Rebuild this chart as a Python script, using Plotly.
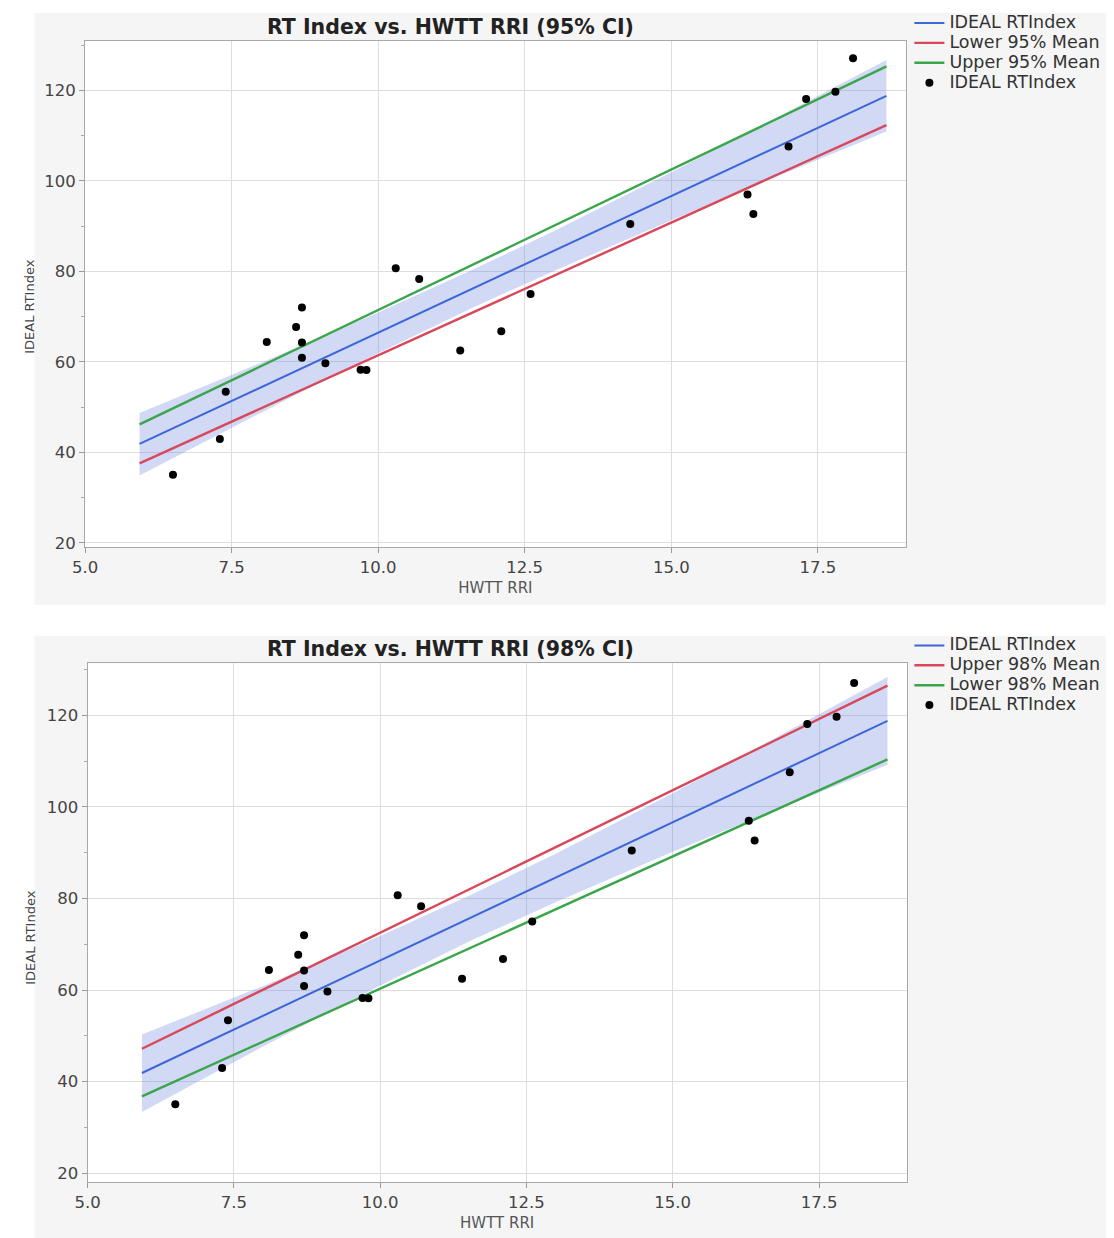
import plotly.graph_objects as go

# ---------------- data ----------------
hwtt_rri = [6.5, 7.3, 7.4, 8.1, 8.6, 8.7, 8.7, 8.7, 9.1, 9.7, 9.8, 10.3, 10.7,
            11.4, 12.1, 12.6, 14.3, 16.3, 16.4, 17.0, 17.3, 17.8, 18.1]
rt_index = [35.1, 43.0, 53.4, 64.4, 67.7, 72.0, 64.3, 60.9, 59.7, 58.3, 58.2, 80.7, 78.3,
            62.5, 66.8, 75.0, 90.5, 97.0, 92.7, 107.6, 118.1, 119.7, 127.1]

fit_x = [5.93, 8.0, 10.0, 11.6, 13.0, 15.0, 17.0, 18.67]
fit_y = [41.9, 54.4, 66.5, 76.1, 84.6, 96.7, 108.8, 118.8]
band95_upper = [48.7, 59.8, 70.9, 80.3, 88.9, 101.9, 115.4, 126.7]
band95_lower = [34.9, 48.8, 61.9, 71.9, 80.1, 91.3, 102.0, 110.9]
band98_upper = [50.3, 60.9, 71.8, 81.1, 89.8, 103.0, 116.8, 128.4]
band98_lower = [33.4, 47.7, 61.0, 71.1, 79.2, 90.2, 100.6, 109.2]

mean_x = [5.93, 18.67]
lower95_mean = [37.6, 112.3]
upper95_mean = [46.2, 125.3]
upper98_mean = [47.2, 126.5]
lower98_mean = [36.8, 110.4]

titles = ["RT Index vs. HWTT RRI (95% CI)", "RT Index vs. HWTT RRI (98% CI)"]
x_title = "HWTT RRI"
y_title = "IDEAL RTIndex"

# ---------------- styling ----------------
W, H = 1114, 1238
FONT = "DejaVu Sans"
BLUE = "#3d66d6"
RED = "#d8475a"
GREEN = "#3ba54b"
BAND = "rgba(90,120,220,0.28)"
GRID = "#dedede"
AXL = "#a8a8a8"
PANEL = "#f5f5f5"


# target screen pixel -> figure pixel (compensates page offset seen in render)
def fx(p):
    return (p - 20.5) / 0.988


def fy(p):
    return (p - 7.3) / 0.996


def px_x(p):
    return fx(p) / W


def px_y(p):
    return 1 - fy(p) / H


def legend_label(text):
    return "<span style='font-size:17.5px'>" + text + "</span>"


fig = go.Figure()


def add_chart(xa, ya, legend, upper, lower, names_colors_lines):
    fig.add_trace(go.Scatter(
        x=fit_x + fit_x[::-1], y=upper + lower[::-1], fill="toself",
        fillcolor=BAND, line=dict(width=0), mode="lines", hoverinfo="skip",
        showlegend=False, xaxis=xa, yaxis=ya))
    fig.add_trace(go.Scatter(
        x=fit_x, y=fit_y, mode="lines", name=legend_label(y_title),
        line=dict(color=BLUE, width=2), xaxis=xa, yaxis=ya, legend=legend))
    for name, color, vals in names_colors_lines:
        fig.add_trace(go.Scatter(
            x=mean_x, y=vals, mode="lines", name=legend_label(name),
            line=dict(color=color, width=2.4), xaxis=xa, yaxis=ya, legend=legend))
    fig.add_trace(go.Scatter(
        x=hwtt_rri, y=rt_index, mode="markers", name=legend_label(y_title),
        marker=dict(color="black", size=8), xaxis=xa, yaxis=ya, legend=legend))


add_chart("x", "y", "legend", band95_upper, band95_lower,
          [("Lower 95% Mean", RED, lower95_mean), ("Upper 95% Mean", GREEN, upper95_mean)])
add_chart("x2", "y2", "legend2", band98_upper, band98_lower,
          [("Upper 98% Mean", RED, upper98_mean), ("Lower 98% Mean", GREEN, lower98_mean)])

xaxis_common = dict(
    range=[5, 19], tick0=5, dtick=2.5, tickformat=".1f",
    showgrid=True, gridcolor=GRID, gridwidth=1, zeroline=False,
    showline=True, linecolor=AXL, linewidth=1, mirror=True,
    ticks="outside", ticklen=5, tickcolor="#999",
    tickfont=dict(family=FONT, size=16.5, color="#444"),
    title=dict(text=x_title, font=dict(family=FONT, size=15, color="#555"), standoff=6),
)
yaxis_common = dict(
    tick0=0, dtick=20,
    showgrid=True, gridcolor=GRID, gridwidth=1, zeroline=False,
    showline=True, linecolor=AXL, linewidth=1, mirror=True,
    ticks="outside", ticklen=5, tickcolor="#999",
    minor=dict(dtick=10, ticks="outside", ticklen=3, tickcolor="#aaa", showgrid=False),
    tickfont=dict(family=FONT, size=16.5, color="#444"),
)

legend_common = dict(xanchor="left", yanchor="top", bgcolor="rgba(0,0,0,0)",
                     tracegroupgap=0, itemwidth=30,
                     font=dict(family=FONT, size=13, color="#333"))

fig.update_layout(
    width=W, height=H, autosize=False,
    margin=dict(l=0, r=0, t=0, b=0),
    paper_bgcolor="white", plot_bgcolor="white",
    xaxis=dict(domain=[px_x(84.5), px_x(905)], anchor="y", **xaxis_common),
    yaxis=dict(domain=[px_y(544), px_y(35)], range=[19.1, 131], anchor="x", **yaxis_common),
    xaxis2=dict(domain=[px_x(87), px_x(906)], anchor="y2", **xaxis_common),
    yaxis2=dict(domain=[px_y(1182.5), px_y(660.7)], range=[18, 131.4], anchor="x2", **yaxis_common),
    legend=dict(x=fx(908.6) / W, y=1 + 5.5 / H, **legend_common),
    legend2=dict(x=fx(908.6) / W, y=1 - 623 / H, **legend_common),
    shapes=[
        # grey chart panels
        dict(type="rect", xref="paper", yref="paper", layer="below",
             x0=px_x(34), x1=1, y0=px_y(602), y1=1, fillcolor=PANEL, line=dict(width=0)),
        dict(type="rect", xref="paper", yref="paper", layer="below",
             x0=px_x(34), x1=1, y0=0, y1=px_y(633), fillcolor=PANEL, line=dict(width=0)),
        # white plot areas
        dict(type="rect", xref="x domain", yref="y domain", layer="below",
             x0=0, x1=1, y0=0, y1=1, fillcolor="white", line=dict(width=0)),
        dict(type="rect", xref="x2 domain", yref="y2 domain", layer="below",
             x0=0, x1=1, y0=0, y1=1, fillcolor="white", line=dict(width=0)),
    ],
    annotations=[
        dict(text="<b>" + titles[0] + "</b>", xref="paper", yref="paper",
             x=px_x(450), y=px_y(21), xanchor="center", yanchor="middle", showarrow=False,
             font=dict(family=FONT, size=20.5, color="#222")),
        dict(text="<b>" + titles[1] + "</b>", xref="paper", yref="paper",
             x=px_x(450), y=px_y(646), xanchor="center", yanchor="middle", showarrow=False,
             font=dict(family=FONT, size=20.5, color="#222")),
        dict(text=y_title, xref="paper", yref="paper", textangle=-90,
             x=0, y=px_y(303), xanchor="left", yanchor="middle", showarrow=False,
             borderpad=0, font=dict(family=FONT, size=13, color="#444")),
        dict(text=y_title, xref="paper", yref="paper", textangle=-90,
             x=0.001, y=px_y(937), xanchor="left", yanchor="middle", showarrow=False,
             borderpad=0, font=dict(family=FONT, size=13, color="#444")),
    ],
)

fig.write_html("out.html")
